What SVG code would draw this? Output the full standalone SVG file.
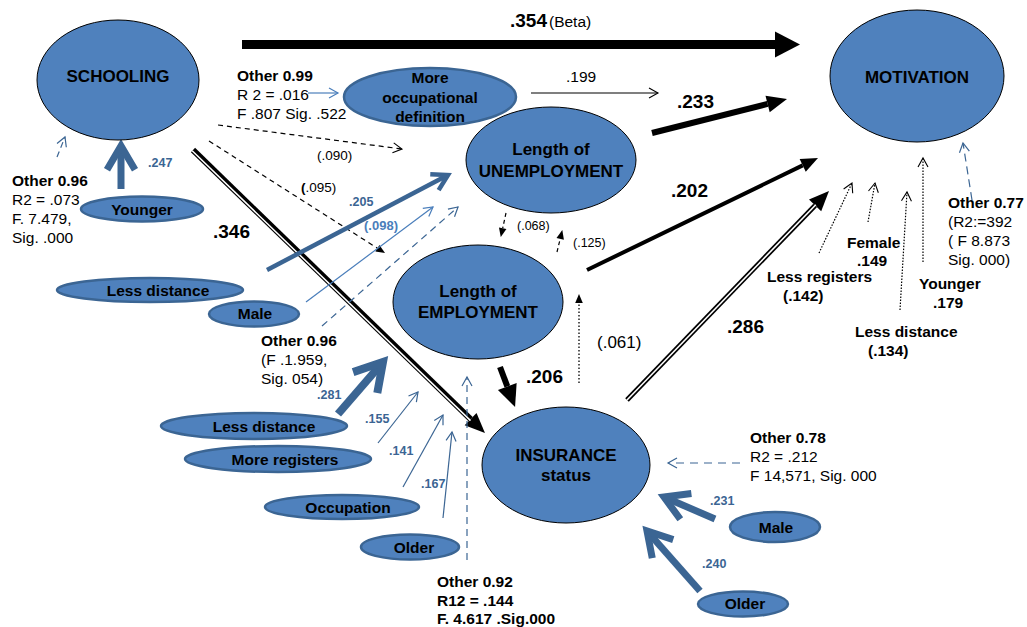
<svg xmlns="http://www.w3.org/2000/svg" width="1027" height="627" viewBox="0 0 1027 627">
<style>
text{font-family:"Liberation Sans",Arial,sans-serif;fill:#000}
.n{font-size:17px;font-weight:bold;text-anchor:middle}
.s{font-size:15.5px;font-weight:bold;text-anchor:middle}
.big{fill:#4f81bd;stroke:#000;stroke-width:1}
.sm{fill:#4f81bd;stroke:#3b6593;stroke-width:2.5}
.t{font-size:15.5px}
.b{font-weight:bold}
.lb{font-size:19px;font-weight:bold}
.bl{font-size:12.5px;font-weight:bold;fill:#3b6593}
.p{font-size:13.5px}
.k{stroke:#000;fill:none}
.db{stroke:#3b6593;fill:none}
.lt{stroke:#4a7ebb;fill:none}
</style>
<defs>
<marker id="mBeta" markerUnits="userSpaceOnUse" markerWidth="26" markerHeight="26" overflow="visible" orient="auto"><path d="M0,-13 L25,0 L0,13 z" fill="#000"/></marker>
<marker id="mFillL" markerUnits="userSpaceOnUse" markerWidth="22" markerHeight="20" overflow="visible" orient="auto"><path d="M0,-10 L22,0 L0,10 z" fill="#000"/></marker>
<marker id="mFillM" markerUnits="userSpaceOnUse" markerWidth="20" markerHeight="17" overflow="visible" orient="auto"><path d="M0,-8.5 L20,0 L0,8.5 z" fill="#000"/></marker>
<marker id="mFillS" markerUnits="userSpaceOnUse" markerWidth="17" markerHeight="14" overflow="visible" orient="auto"><path d="M0,-7 L17,0 L0,7 z" fill="#000"/></marker>
<marker id="mFillXS" markerUnits="userSpaceOnUse" markerWidth="9" markerHeight="8" overflow="visible" orient="auto"><path d="M0,-3.8 L9,0 L0,3.8 z" fill="#000"/></marker>
<marker id="mOpenK" markerUnits="userSpaceOnUse" markerWidth="10" markerHeight="10" overflow="visible" orient="auto"><path d="M-9,-5 L0,0 L-9,5" fill="none" stroke="#000" stroke-width="1.1"/></marker>
<marker id="mOpenB" markerUnits="userSpaceOnUse" markerWidth="10" markerHeight="10" overflow="visible" orient="auto"><path d="M-9,-5 L0,0 L-9,5" fill="none" stroke="#3b6593" stroke-width="1.2"/></marker>
<marker id="mOpenL" markerUnits="userSpaceOnUse" markerWidth="10" markerHeight="10" overflow="visible" orient="auto"><path d="M-9,-5 L0,0 L-9,5" fill="none" stroke="#4a7ebb" stroke-width="1.2"/></marker>
<marker id="mChev" markerUnits="strokeWidth" markerWidth="4" markerHeight="4" overflow="visible" orient="auto"><path d="M-3.4,-2 L0,0 L-3.4,2" fill="none" stroke="#3b6593" stroke-width="1" stroke-linecap="butt"/></marker>
</defs>

<g id="connectors">
  <line x1="242" y1="44.5" x2="775" y2="44.5" class="k" stroke-width="9" marker-end="url(#mBeta)"/>
  <line x1="531" y1="93" x2="658" y2="93" class="k" stroke-width="1.1" marker-end="url(#mOpenK)"/>
  <line x1="652" y1="133" x2="767.6" y2="103.9" class="k" stroke-width="6" marker-end="url(#mFillM)"/>
  <line x1="587" y1="270" x2="802.7" y2="165.4" class="k" stroke-width="4" marker-end="url(#mFillS)"/>
  <line x1="627" y1="400" x2="815.1" y2="205.4" class="k" stroke-width="5" marker-end="url(#mFillM)"/>
  <line x1="627" y1="400" x2="815.8" y2="204.7" stroke="#fff" stroke-width="1.6"/>
  <line x1="193" y1="150" x2="470.6" y2="419.1" class="k" stroke-width="6" marker-end="url(#mFillM)"/>
  <line x1="193" y1="150" x2="471.3" y2="419.8" stroke="#fff" stroke-width="1.5" transform="translate(-0.8,0.8)"/>
  <line x1="500" y1="367" x2="507.3" y2="386.4" class="k" stroke-width="6" marker-end="url(#mFillL)"/>
  <line x1="218" y1="125" x2="402" y2="149" class="k" stroke-width="1.2" stroke-dasharray="5 4" marker-end="url(#mOpenK)"/>
  <line x1="209" y1="141" x2="377.4" y2="248.2" class="k" stroke-width="1.2" stroke-dasharray="5 4" marker-end="url(#mFillXS)"/>
  <line x1="506" y1="213" x2="502.7" y2="228.2" class="k" stroke-width="1.2" stroke-dasharray="4 3" marker-end="url(#mFillXS)"/>
  <line x1="557" y1="252" x2="560.2" y2="238.8" class="k" stroke-width="1.2" stroke-dasharray="4 3" marker-end="url(#mFillXS)"/>
  <line x1="579" y1="383" x2="579" y2="303" class="k" stroke-width="1.3" stroke-dasharray="1.5 2" marker-end="url(#mFillXS)"/>
  <line x1="819" y1="253" x2="852" y2="183" class="k" stroke-width="1.2" stroke-dasharray="1.5 1.5" marker-end="url(#mOpenK)"/>
  <line x1="868" y1="222" x2="875" y2="183" class="k" stroke-width="1.2" stroke-dasharray="1.5 1.5" marker-end="url(#mOpenK)"/>
  <line x1="900" y1="310" x2="907" y2="192" class="k" stroke-width="1.2" stroke-dasharray="1.5 1.5" marker-end="url(#mOpenK)"/>
  <line x1="923" y1="262" x2="923" y2="158" class="k" stroke-width="1.2" stroke-dasharray="1.5 1.5" marker-end="url(#mOpenK)"/>
  <line x1="121" y1="189" x2="121" y2="146" class="db" stroke-width="7" marker-end="url(#mChev)"/>
  <line x1="267" y1="270" x2="448" y2="175" class="db" stroke-width="4.5" marker-end="url(#mChev)"/>
  <line x1="338" y1="414" x2="383" y2="362" class="db" stroke-width="8" marker-end="url(#mChev)"/>
  <line x1="715" y1="519" x2="664" y2="497" class="db" stroke-width="7" marker-end="url(#mChev)"/>
  <line x1="700" y1="591" x2="647" y2="531" class="db" stroke-width="7" marker-end="url(#mChev)"/>
  <line x1="378" y1="443" x2="418" y2="392" class="db" stroke-width="1.2" marker-end="url(#mOpenB)"/>
  <line x1="403" y1="487" x2="443" y2="415" class="db" stroke-width="1.2" marker-end="url(#mOpenB)"/>
  <line x1="443" y1="518" x2="452" y2="432" class="db" stroke-width="1.2" marker-end="url(#mOpenB)"/>
  <line x1="322" y1="326" x2="458" y2="207" class="db" stroke-width="1.2" stroke-dasharray="7 5" marker-end="url(#mOpenB)"/>
  <line x1="467" y1="560" x2="467" y2="377" class="db" stroke-width="1.2" stroke-dasharray="7 5" marker-end="url(#mOpenB)"/>
  <line x1="740" y1="463" x2="668" y2="463" class="db" stroke-width="1.2" stroke-dasharray="8 6" marker-end="url(#mOpenB)"/>
  <line x1="57" y1="157" x2="65" y2="137" class="db" stroke-width="1.2" stroke-dasharray="6 4" marker-end="url(#mOpenB)"/>
  <line x1="972" y1="200" x2="963" y2="143" class="db" stroke-width="1.2" stroke-dasharray="8 5" marker-end="url(#mOpenB)"/>
  <line x1="306" y1="302" x2="433" y2="207" class="lt" stroke-width="1.2" marker-end="url(#mOpenL)"/>
  <line x1="308" y1="93" x2="338" y2="93" class="lt" stroke-width="1.2" marker-end="url(#mOpenL)"/>
</g>

<g id="labels">
  <text x="510" y="27" style="font-size:19px;font-weight:bold">.354</text>
  <text x="549" y="27" style="font-size:15.5px">(Beta)</text>
  <text x="566" y="82" class="t">.199</text>
  <text x="677" y="108" class="lb">.233</text>
  <text x="671" y="197" class="lb">.202</text>
  <text x="727" y="333" class="lb">.286</text>
  <text x="213" y="238" class="lb">.346</text>
  <text x="526" y="383" class="lb">.206</text>
  <text x="597" y="348" style="font-size:17px">(.061)</text>
  <text x="317" y="160" class="p">(.090)</text>
  <text x="301" y="192" class="p"><tspan font-weight="bold">(</tspan>.095)</text>
  <text x="517" y="230" style="font-size:12.5px">(.068)</text>
  <text x="573" y="247" style="font-size:12.5px">(.125)</text>
  <text x="349" y="206" class="bl">.205</text>
  <text x="364" y="230" class="bl" style="font-size:13px;fill:#4a7ebb">(.098)</text>
  <text x="148" y="167" class="bl">.247</text>
  <text x="317" y="399" class="bl">.281</text>
  <text x="365" y="423" class="bl">.155</text>
  <text x="389" y="455" class="bl">.141</text>
  <text x="421" y="488" class="bl">.167</text>
  <text x="710" y="505" class="bl">.231</text>
  <text x="702" y="568" class="bl">.240</text>

  <text x="237" y="81" class="t b">Other 0.99</text>
  <text x="237" y="100" class="t">R 2 = .016</text>
  <text x="237" y="119" class="t">F .807 Sig. .522</text>

  <text x="12" y="186" class="t b">Other 0.96</text>
  <text x="12" y="205" class="t">R2 = .073</text>
  <text x="12" y="224" class="t">F. 7.479,</text>
  <text x="12" y="243" class="t">Sig. .000</text>

  <text x="261" y="346" class="t b">Other 0.96</text>
  <text x="261" y="365" class="t">(F .1.959,</text>
  <text x="261" y="384" class="t">Sig. 054)</text>

  <text x="750" y="443" class="t b">Other 0.78</text>
  <text x="750" y="462" class="t">R2 = .212</text>
  <text x="750" y="481" class="t">F 14,571, Sig. 000</text>

  <text x="437" y="587" class="t b">Other 0.92</text>
  <text x="437" y="606" class="t b">R12 = .144</text>
  <text x="437" y="624" class="t b">F. 4.617 .Sig.000</text>

  <text x="948" y="208" class="t b">Other 0.77</text>
  <text x="948" y="227" class="t">(R2:=392</text>
  <text x="948" y="246" class="t">( F 8.873</text>
  <text x="948" y="265" class="t">Sig. 000)</text>

  <text x="767" y="282" class="t b">Less registers</text>
  <text x="783" y="301" class="t b">(.142)</text>
  <text x="847" y="248" class="t b">Female</text>
  <text x="857" y="266" class="t b">.149</text>
  <text x="919" y="289" class="t b">Younger</text>
  <text x="933" y="308" class="t b">.179</text>
  <text x="855" y="337" class="t b">Less distance</text>
  <text x="868" y="356" class="t b">(.134)</text>
</g>

<g id="node-schooling"><ellipse cx="118" cy="80" rx="81" ry="60" class="big"/><text x="118" y="82" class="n">SCHOOLING</text></g>
<g id="node-motivation"><ellipse cx="917" cy="76" rx="87" ry="66" class="big"/><text x="917" y="83" class="n">MOTIVATION</text></g>
<g id="node-occupational"><ellipse cx="430" cy="97" rx="86" ry="29" class="sm"/><text x="430" y="83" class="s">More</text><text x="430" y="103" class="s">occupational</text><text x="430" y="122" class="s">definition</text></g>
<g id="node-unemployment"><ellipse cx="551" cy="160" rx="85" ry="53" class="big"/><text x="551" y="155" class="n">Length of</text><text x="551" y="177" class="n">UNEMPLOYMENT</text></g>
<g id="node-employment"><ellipse cx="478" cy="302" rx="85" ry="57" class="big"/><text x="478" y="297" class="n">Length of</text><text x="478" y="318" class="n">EMPLOYMENT</text></g>
<g id="node-insurance"><ellipse cx="566" cy="465" rx="84" ry="58" class="big"/><text x="566" y="461" class="n">INSURANCE</text><text x="566" y="481" class="n">status</text></g>

<g id="node-younger"><ellipse cx="142" cy="209" rx="61" ry="12.5" class="sm"/><text x="142" y="215" class="s">Younger</text></g>
<g id="node-lessdistance1"><ellipse cx="150" cy="290" rx="93" ry="12" class="sm"/><text x="158" y="296" class="s">Less distance</text></g>
<g id="node-male1"><ellipse cx="254" cy="314" rx="45" ry="12.5" class="sm"/><text x="255" y="319" class="s">Male</text></g>
<g id="node-lessdistance2"><ellipse cx="254" cy="426" rx="93" ry="13" class="sm"/><text x="264" y="432" class="s">Less distance</text></g>
<g id="node-moreregisters"><ellipse cx="278" cy="459" rx="93" ry="13" class="sm"/><text x="285" y="465" class="s">More registers</text></g>
<g id="node-occupation"><ellipse cx="342" cy="507" rx="77" ry="12" class="sm"/><text x="348" y="513" class="s">Occupation</text></g>
<g id="node-older1"><ellipse cx="410" cy="547" rx="49" ry="12.5" class="sm"/><text x="414" y="553" class="s">Older</text></g>
<g id="node-male2"><ellipse cx="775" cy="527" rx="45" ry="15" class="sm"/><text x="776" y="533" class="s">Male</text></g>
<g id="node-older2"><ellipse cx="743" cy="604" rx="45" ry="12.5" class="sm"/><text x="745" y="609" class="s">Older</text></g>
</svg>
